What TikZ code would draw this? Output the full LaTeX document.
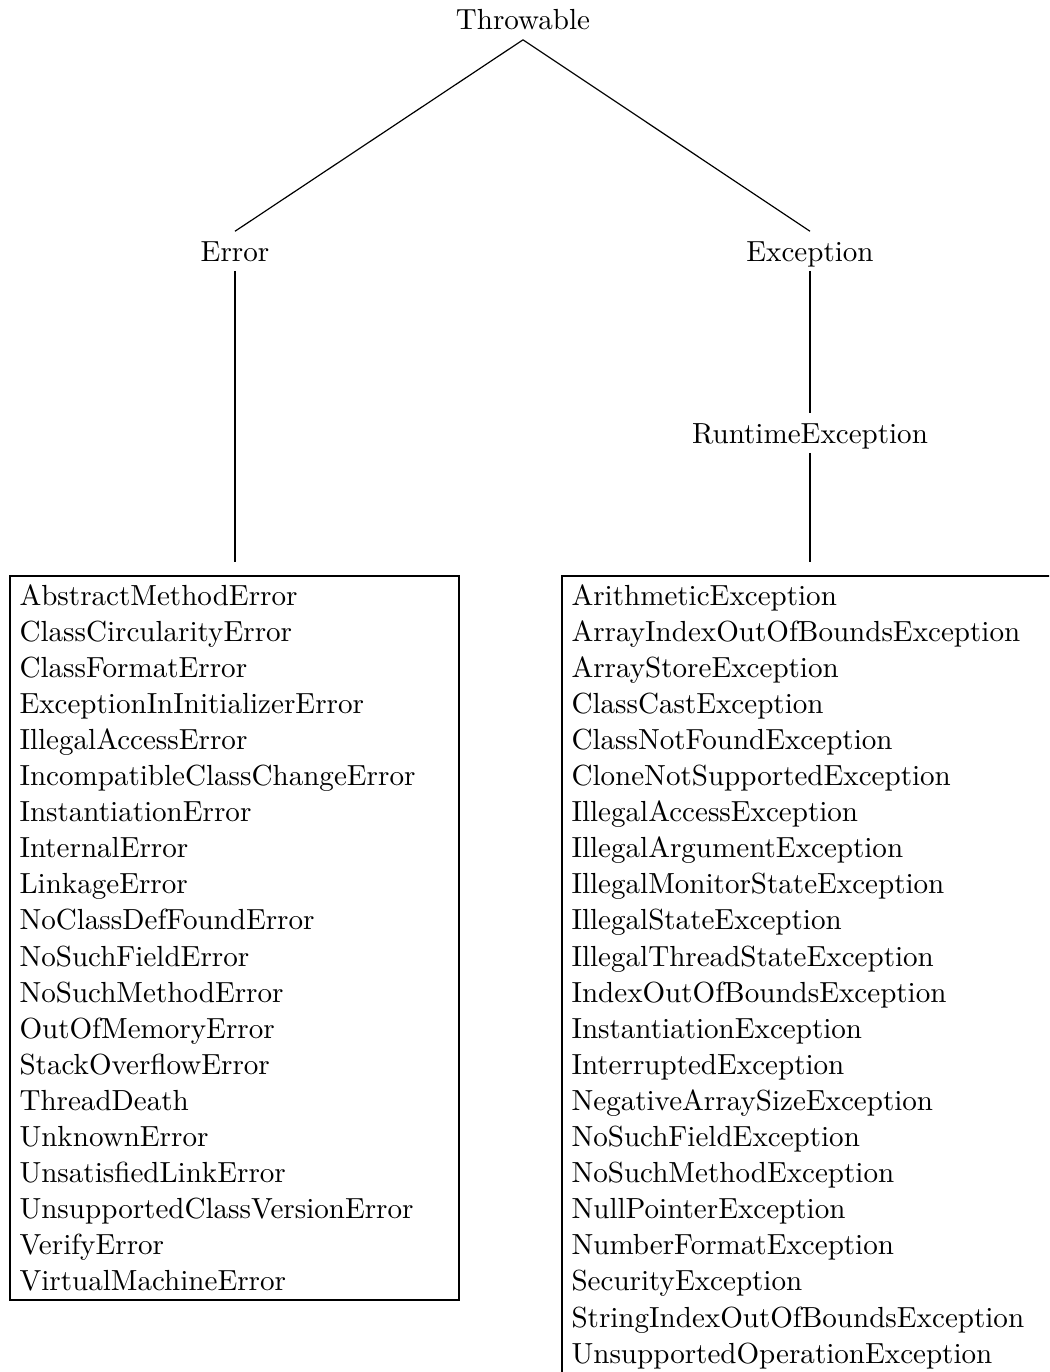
\documentclass[tikz,border=0pt]{standalone}
\usepackage{fontspec}
\begin{document}
\begin{tikzpicture}[x=0.37665pt,y=-0.37665pt,
  lbl/.style={inner sep=0pt,anchor=base west,font=\fontsize{10.95}{13.6}\selectfont},
  top/.style={inner xsep=0pt,inner ysep=3.5pt,text height=7.5pt,text depth=0pt,anchor=base,font=\fontsize{10.95}{13.6}\selectfont},
  conn/.style={line width=0.45pt},
  listbox/.style={line width=0.85pt}]
\useasboundingbox (0,0) rectangle (1049,1372);
\clip (0,0) rectangle (1049,1372);
\node[top] (thr) at (523,30) {Throwable};
\node[top] (err) at (235,261) {Error};
\node[top] (exc) at (810,261) {Exception};
\node[top] (rte) at (810,443) {RuntimeException};
\coordinate (errtop) at (235,562);
\coordinate (exctop) at (810,562);
\draw[conn] (thr.south) -- (err.north);
\draw[conn] (thr.south) -- (exc.north);
\draw[conn] (err.south) -- (errtop);
\draw[conn] (exc.south) -- (rte.north);
\draw[conn] (rte.south) -- (exctop);
\draw[listbox] (10,576) rectangle (459,1300);
\draw[listbox] (562,576) rectangle (1080,1420);
\foreach \t [count=\i from 0] in {AbstractMethodError,ClassCircularityError,ClassFormatError,ExceptionInInitializerError,IllegalAccessError,IncompatibleClassChangeError,InstantiationError,InternalError,LinkageError,NoClassDefFoundError,NoSuchFieldError,NoSuchMethodError,OutOfMemoryError,StackOverflowError,ThreadDeath,UnknownError,UnsatisfiedLinkError,UnsupportedClassVersionError,VerifyError,VirtualMachineError}
  \node[lbl] (e\i) at (19,605+36.1*\i) {\t};
\foreach \t [count=\i from 0] in {ArithmeticException,ArrayIndexOutOfBoundsException,ArrayStoreException,ClassCastException,ClassNotFoundException,CloneNotSupportedException,IllegalAccessException,IllegalArgumentException,IllegalMonitorStateException,IllegalStateException,IllegalThreadStateException,IndexOutOfBoundsException,InstantiationException,InterruptedException,NegativeArraySizeException,NoSuchFieldException,NoSuchMethodException,NullPointerException,NumberFormatException,SecurityException,StringIndexOutOfBoundsException,UnsupportedOperationException}
  \node[lbl] (x\i) at (571,605+36.1*\i) {\t};
\end{tikzpicture}
\end{document}
